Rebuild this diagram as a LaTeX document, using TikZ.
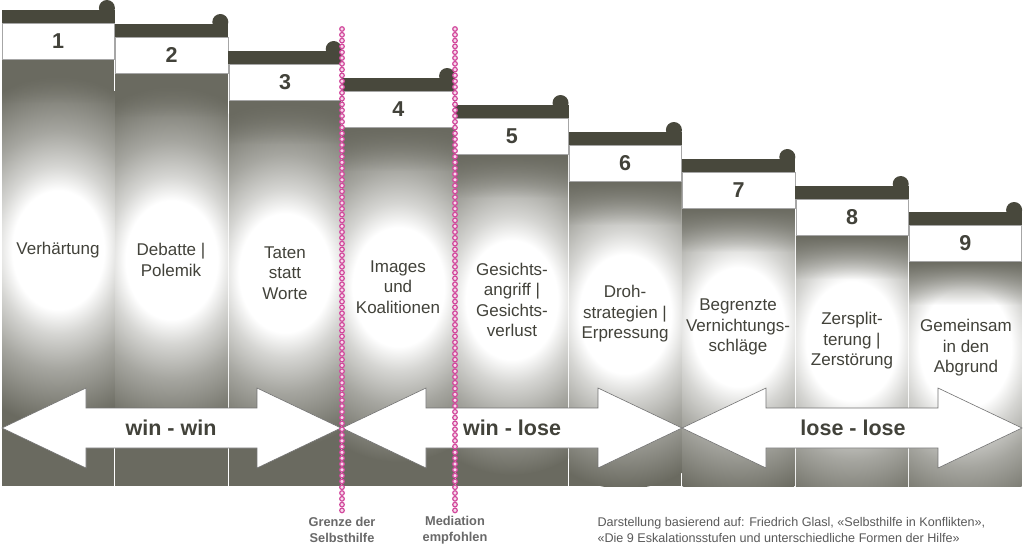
\documentclass[tikz,border=0pt]{standalone}
\usepackage{fontspec}
\setmainfont{Liberation Sans}
\usetikzlibrary{fadings}
\definecolor{colgray}{RGB}{106,106,96}
\definecolor{bardark}{RGB}{72,72,60}
\definecolor{txtdark}{RGB}{66,66,58}
\definecolor{pinkdot}{RGB}{210,72,156}
\definecolor{notegray}{RGB}{90,90,90}
\definecolor{labgray}{RGB}{105,105,105}
\pgfdeclareradialshading{glow}{\pgfpoint{0bp}{0bp}}{color(0bp)=(white); color(8.5bp)=(white); color(12bp)=(white!72!colgray); color(17bp)=(white!40!colgray); color(25bp)=(colgray); color(50bp)=(colgray)}
\tikzfading[name=fadedown, top color=transparent!0, bottom color=transparent!100]
\tikzset{
  colbox/.style={fill=colgray},
  whitebox/.style={fill=white, draw=black!35, line width=0.6pt},
  barbox/.style={fill=bardark},
  num/.style={font=\fontsize{21.5}{21}\selectfont\bfseries, text=txtdark},
  coltext/.style={font=\fontsize{17}{20.5}\selectfont, text=txtdark, align=center},
  bigarrow/.style={fill=white, draw=black!55, line width=0.6pt},
  arrowtext/.style={font=\fontsize{21.5}{22}\selectfont\bfseries, text=txtdark},
  ring/.style={draw=pinkdot, fill=white!80!pinkdot, line width=1.2pt},
  bottomlab/.style={font=\fontsize{12.8}{16}\selectfont\bfseries, text=labgray, align=center},
  note/.style={font=\fontsize{12.6}{16}\selectfont, text=notegray, align=left}
}
\begin{document}
\begin{tikzpicture}[x=1pt,y=-1pt]
\useasboundingbox (0,0) rectangle (1024,547);
\fill[white] (0,0) rectangle (1024,547);
% columns
\foreach \i/\ty/\gy in {1/23/250, 2/37/260, 3/64/273, 4/91/287, 5/118/300, 6/145/314, 7/172/327, 8/199/341, 9/225/348} {
  \pgfmathsetmacro\L{2+(\i-1)*113.4}
  \pgfmathsetmacro\R{\L+112.4}
  \pgfmathsetmacro\C{\L+56.2}
  \fill[colbox] (\L,\ty+36) rectangle (\R,486);
  \begin{scope}
    \clip (\L,\ty+36) rectangle (\R,486);
    \shade[shading=glow] (\C,\gy) ellipse (135 and 175);
  \end{scope}
  \fill[colgray, path fading=fadedown] (\L,\ty+36) rectangle (\R,\ty+80);
  \fill[barbox] (\L-0.5,\ty-13) rectangle (\R+0.5,\ty);
  \fill[barbox] (\R-7.5,\ty-15) circle (8);
  \draw[whitebox] (\L,\ty) rectangle (\R,\ty+36);
  \node[num] (n\i) at (\C,\ty+18) {\i};
}
% column texts
\node[coltext] (t1) at (58,250) {Verhärtung};
\node[coltext] (t2) at (171,260) {Debatte |\\Polemik};
\node[coltext] (t3) at (285,273) {Taten\\statt\\Worte};
\node[coltext] (t4) at (398,287) {Images\\und\\Koalitionen};
\node[coltext] (t5) at (512,300) {Gesichts-\\angriff |\\Gesichts-\\verlust};
\node[coltext] (t6) at (625,314) {Droh-\\strategien |\\Erpressung};
\node[coltext] (t7) at (738,327) {Begrenzte\\Vernichtungs-\\schläge};
\node[coltext] (t8) at (852,341) {Zersplit-\\terung |\\Zerstörung};
\node[coltext] (t9) at (966,348) {Gemeinsam\\in den\\Abgrund};
% arrows
\foreach \xa/\xb in {2/341, 342/682, 682/1022} {
  \draw[bigarrow] (\xa,428) -- (\xa+84,388) -- (\xa+84,408) -- (\xb-84,408) -- (\xb-84,388)
     -- (\xb,428) -- (\xb-84,468) -- (\xb-84,448) -- (\xa+84,448) -- (\xa+84,468) -- cycle;
}
\node[arrowtext] (a1) at (171,428) {win - win};
\node[arrowtext] (a2) at (512,428) {win - lose};
\node[arrowtext] (a3) at (853,428) {lose - lose};
% dotted lines
\foreach \k in {0,...,83} {
  \pgfmathsetmacro\yy{29+\k*5.8}
  \draw[ring] (342,\yy) circle (2.3);
  \draw[ring] (455,\yy) circle (2.3);
}
\node[bottomlab] (g1) at (342,530) {Grenze der\\Selbsthilfe};
\node[bottomlab] (g2) at (455,530) {Mediation\\empfohlen};
\node[note, anchor=west] (src) at (594,530) {Darstellung basierend auf: Friedrich Glasl, «Selbsthilfe in Konflikten»,\\«Die 9 Eskalationsstufen und unterschiedliche Formen der Hilfe»};
\end{tikzpicture}
\end{document}
